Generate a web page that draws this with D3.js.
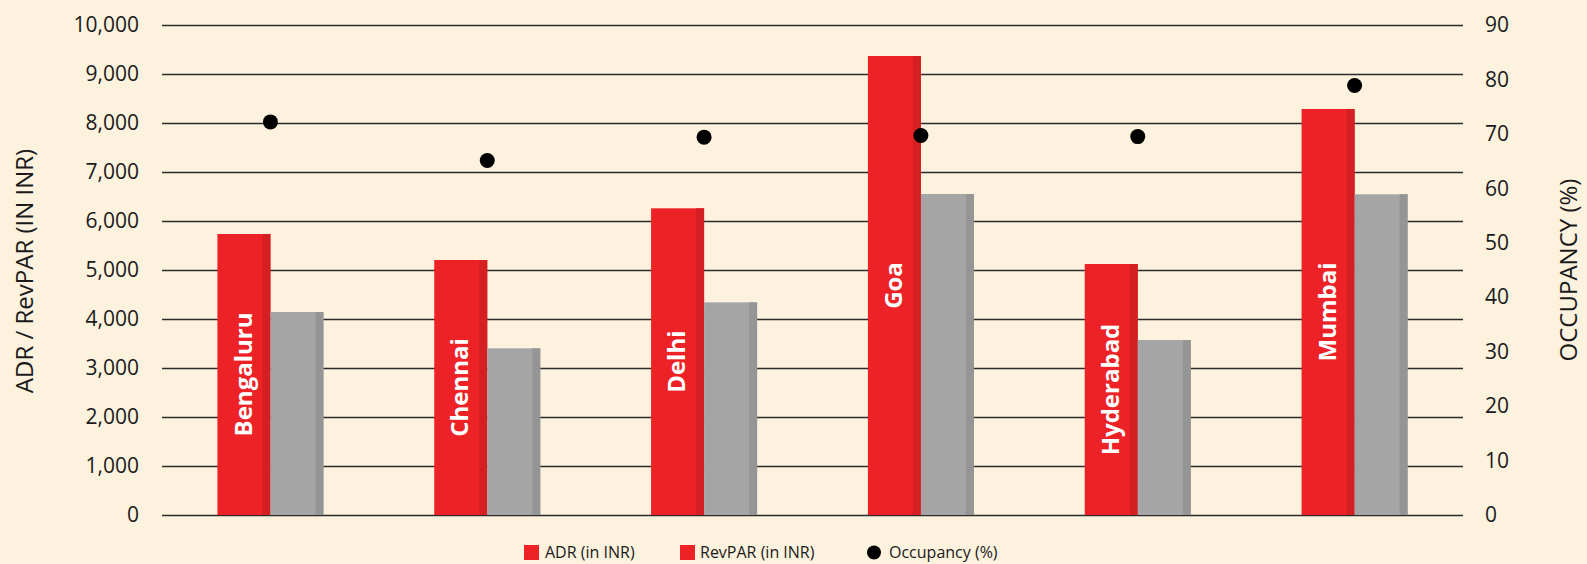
<!DOCTYPE html>
<html>
<head>
<meta charset="utf-8">
<script src="https://cdn.jsdelivr.net/npm/d3@7"></script>
<style>
  html, body { margin: 0; padding: 0; background: #fdf2de; }
  svg { display: block; font-family: "Open Sans", sans-serif; }
  .tick text { fill: #1a1a1a; }
</style>
</head>
<body>
<svg width="1587" height="564"></svg>
<script>
// Chart data
const cities = ['Bengaluru', 'Chennai', 'Delhi', 'Goa', 'Hyderabad', 'Mumbai'];
const adr = [5735, 5204, 6259, 9367, 5122, 8286];
const revpar = [4143, 3401, 4340, 6551, 3571, 6545];
const occupancy = [72.2, 65.1, 69.4, 69.7, 69.5, 78.9];
const leftTicks = [0, 1000, 2000, 3000, 4000, 5000, 6000, 7000, 8000, 9000, 10000];
const rightTicks = [0, 10, 20, 30, 40, 50, 60, 70, 80, 90];

const svg = d3.select('svg');
const plotLeft = 162, plotRight = 1463, plotTop = 25, plotBottom = 515;

const x0 = d3.scaleBand().domain(cities).range([plotLeft, plotRight]).paddingInner(0.511).paddingOuter(0.2555);
const x1 = d3.scaleBand().domain(['adr', 'revpar']).range([0, x0.bandwidth()]);
const y = d3.scaleLinear().domain([0, 10000]).range([plotBottom, plotTop]);
const yR = d3.scaleLinear().domain([0, 90]).range([plotBottom, plotTop]);

// left axis with gridlines
const gl = svg.append('g')
  .attr('transform', `translate(${plotLeft},0)`)
  .call(d3.axisLeft(y).tickValues(leftTicks).tickSize(-(plotRight - plotLeft)).tickPadding(23)
    .tickFormat(d3.format(',')))
  .attr('font-family', null)
  .attr('font-size', 21);
gl.select('.domain').remove();
gl.selectAll('.tick line').attr('stroke', '#2b2b2b').attr('stroke-width', 1.4);

// right axis
const gr = svg.append('g')
  .attr('transform', `translate(${plotRight},0)`)
  .call(d3.axisRight(yR).tickValues(rightTicks).tickSize(0).tickPadding(22))
  .attr('font-family', null)
  .attr('font-size', 21);
gr.select('.domain').remove();

// bars
const series = [
  { key: 'adr', values: adr, fill: '#ec2227', edge: '#d42023' },
  { key: 'revpar', values: revpar, fill: '#a5a5a5', edge: '#959595' }
];
const stripe = 8;
series.forEach(s => {
  const g = svg.append('g');
  cities.forEach((c, i) => {
    const bx = x0(c) + x1(s.key);
    const bw = x1.bandwidth();
    g.append('rect')
      .attr('x', bx).attr('y', y(s.values[i]))
      .attr('width', bw).attr('height', y(0) - y(s.values[i]))
      .attr('fill', s.fill);
    g.append('rect')
      .attr('x', bx + bw - stripe).attr('y', y(s.values[i]))
      .attr('width', stripe).attr('height', y(0) - y(s.values[i]))
      .attr('fill', s.edge);
  });
});

// city labels inside ADR bars
cities.forEach((c, i) => {
  const cx = x0(c) + x1('adr') + x1.bandwidth() / 2 - 1;
  const cy = (y(adr[i]) + y(0)) / 2;
  svg.append('text')
    .attr('transform', `translate(${cx},${cy}) rotate(-90)`)
    .attr('text-anchor', 'middle')
    .attr('dy', '0.36em')
    .style('font-size', '24px')
    .style('font-weight', 'bold')
    .attr('fill', '#fff')
    .text(c);
});

// occupancy dots
svg.append('g').selectAll('circle')
  .data(occupancy)
  .join('circle')
  .attr('cx', (d, i) => x0(cities[i]) + x0.bandwidth() / 2)
  .attr('cy', d => yR(d))
  .attr('r', 7.5)
  .attr('fill', '#000');

// axis titles
svg.append('text')
  .attr('transform', `translate(25,271) rotate(-90)`)
  .attr('text-anchor', 'middle')
  .attr('dy', '0.35em')
  .style('font-size', '24px')
  .attr('fill', '#1a1a1a')
  .text('ADR / RevPAR (IN INR)');

svg.append('text')
  .attr('transform', `translate(1569,270) rotate(-90)`)
  .attr('text-anchor', 'middle')
  .attr('dy', '0.35em')
  .style('font-size', '24px')
  .attr('fill', '#1a1a1a')
  .text('OCCUPANCY (%)');

// legend
const legend = svg.append('g').style('font-size', '16px').attr('fill', '#1a1a1a');
legend.append('rect').attr('x', 524).attr('y', 545).attr('width', 15).attr('height', 15).attr('fill', '#ec2227');
legend.append('text').attr('x', 545).attr('y', 558).text('ADR (in INR)');
legend.append('rect').attr('x', 680).attr('y', 545).attr('width', 15).attr('height', 15).attr('fill', '#ec2227');
legend.append('text').attr('x', 700).attr('y', 558).text('RevPAR (in INR)');
legend.append('circle').attr('cx', 874).attr('cy', 552.5).attr('r', 7).attr('fill', '#000');
legend.append('text').attr('x', 889).attr('y', 558).text('Occupancy (%)');
</script>
</body>
</html>
